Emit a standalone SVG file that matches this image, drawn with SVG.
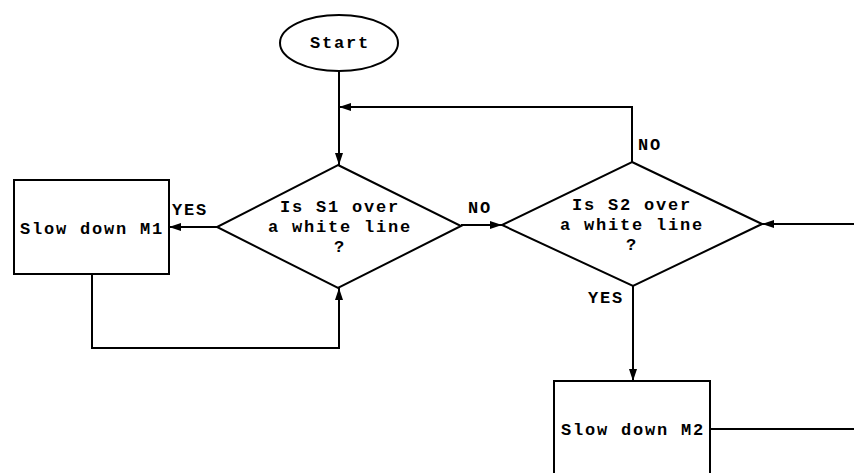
<svg xmlns="http://www.w3.org/2000/svg" width="854" height="473" viewBox="0 0 854 473">
<style>
.s{fill:#fff;stroke:#000;stroke-width:2}
.c{fill:none;stroke:#000;stroke-width:2}
text{font-family:"Liberation Mono","Courier New",monospace;font-weight:bold;font-size:17px;letter-spacing:1.8px;fill:#000}
.m{text-anchor:middle}
</style>
<defs>
<marker id="ah" viewBox="0 0 12 8" refX="12" refY="4" markerWidth="12" markerHeight="8" markerUnits="userSpaceOnUse" orient="auto">
<path d="M0,0 L12,4 L0,8 Z" fill="#000"/>
</marker>
</defs>
<rect width="854" height="473" fill="#fff"/>
<g id="connectors">
<line class="c" x1="339" y1="71" x2="339" y2="165" marker-end="url(#ah)"/>
<polyline class="c" points="632,162 632,107 339,107" marker-end="url(#ah)"/>
<line class="c" x1="217" y1="227" x2="169" y2="227" marker-end="url(#ah)"/>
<polyline class="c" points="92,274 92,348 339,348 339,288" marker-end="url(#ah)"/>
<line class="c" x1="461" y1="225" x2="502" y2="225" marker-end="url(#ah)"/>
<line class="c" x1="854" y1="224" x2="762" y2="224" marker-end="url(#ah)"/>
<line class="c" x1="633" y1="286" x2="633" y2="381" marker-end="url(#ah)"/>
<line class="c" x1="710" y1="429" x2="854" y2="429"/>
<text x="172" y="215">YES</text>
<text x="468" y="213">NO</text>
<text x="638" y="150">NO</text>
<text x="588" y="303">YES</text>
</g>
<g id="start">
<ellipse class="s" cx="339" cy="43" rx="59" ry="28"/>
<text class="m" x="340" y="48">Start</text>
</g>
<g id="decision1">
<polygon class="s" points="338,165 461,226 338,288 217,227"/>
<text class="m" x="340" y="212">Is S1 over</text>
<text class="m" x="340" y="232">a white line</text>
<text class="m" x="340" y="252">?</text>
</g>
<g id="decision2">
<polygon class="s" points="632,162 762,224 633,286 502,225"/>
<text class="m" x="632" y="210">Is S2 over</text>
<text class="m" x="632" y="230">a white line</text>
<text class="m" x="632" y="250">?</text>
</g>
<g id="slowM1">
<rect class="s" x="14" y="180" width="155" height="94"/>
<text class="m" x="92" y="234">Slow down M1</text>
</g>
<g id="slowM2">
<rect class="s" x="554" y="381" width="156" height="100"/>
<text class="m" x="633" y="435">Slow down M2</text>
</g>
</svg>
